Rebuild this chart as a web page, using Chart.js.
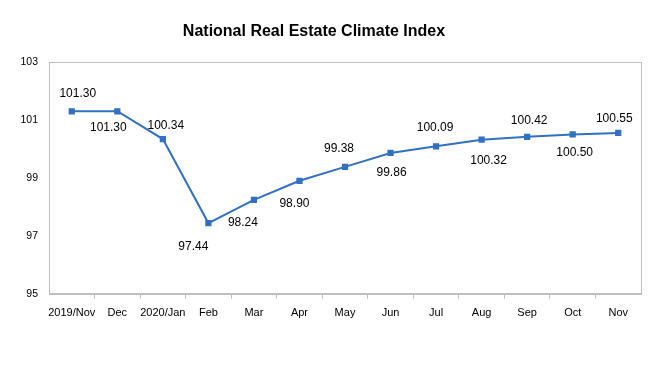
<!DOCTYPE html>
<html>
<head>
<meta charset="utf-8">
<script src="https://cdn.jsdelivr.net/npm/chart.js@4/dist/chart.umd.min.js"></script>
<style>
  html, body { margin: 0; padding: 0; background: #fff; }
  #wrap { width: 659px; height: 386px; }
</style>
</head>
<body>
<div id="wrap"><canvas id="chart" width="659" height="386"></canvas></div>
<script>
  const months = ['2019/Nov', 'Dec', '2020/Jan', 'Feb', 'Mar', 'Apr', 'May', 'Jun', 'Jul', 'Aug', 'Sep', 'Oct', 'Nov'];
  const climateIndex = [101.30, 101.30, 100.34, 97.44, 98.24, 98.90, 99.38, 99.86, 100.09, 100.32, 100.42, 100.50, 100.55];
  const yTicks = [95, 97, 99, 101, 103];

  // where each value label sits relative to its point (px)
  const labelShift = [
    [6, -18], [-9, 16], [3, -13], [-15, 24], [-11, 23], [-5, 23], [-6, -18],
    [1, 20], [-1, -19], [7, 21], [2, -16], [2, 18], [-4, -14],
  ];

  const lineColor = '#3170c3';
  const frameColor = '#bfbfbf';
  const font = '"Liberation Sans", Arial, sans-serif';

  const decorations = {
    id: 'decorations',
    afterDatasetsDraw(chart) {
      const { ctx, chartArea: a } = chart;
      ctx.save();
      // plot frame
      ctx.strokeStyle = frameColor;
      ctx.lineWidth = 1;
      ctx.strokeRect(Math.round(a.left) + 0.5, Math.round(a.top) + 0.5,
        Math.round(a.right - a.left), Math.round(a.bottom - a.top));

      // value labels
      const meta = chart.getDatasetMeta(0);
      ctx.fillStyle = '#000';
      ctx.font = '12px ' + font;
      ctx.textAlign = 'center';
      ctx.textBaseline = 'middle';
      meta.data.forEach((pt, i) => {
        const [dx, dy] = labelShift[i];
        ctx.fillText(climateIndex[i].toFixed(2), pt.x + dx, pt.y + dy);
      });

      // title
      ctx.font = 'bold 16px ' + font;
      ctx.fillText('National Real Estate Climate Index', 314, 32);
      ctx.restore();
    },
  };

  new Chart(document.getElementById('chart'), {
    type: 'line',
    data: {
      labels: months,
      datasets: [{
        data: climateIndex,
        borderColor: lineColor,
        backgroundColor: lineColor,
        borderWidth: 2,
        pointStyle: 'rect',
        pointRadius: 3,
        pointHoverRadius: 3,
        tension: 0,
      }],
    },
    options: {
      responsive: false,
      animation: false,
      layout: { padding: { top: 62, right: 18, bottom: 58, left: 0 } },
      plugins: {
        legend: { display: false },
        tooltip: { enabled: false },
      },
      scales: {
        x: {
          offset: true,
          grid: {
            offset: true,
            drawOnChartArea: false,
            tickLength: 5,
            // no tick marks on the two outer edges
            color: (c) => (c.index === 0 || c.index === undefined ? 'rgba(0,0,0,0)' : frameColor),
          },
          border: { color: frameColor },
          ticks: { color: '#000', font: { family: font, size: 11 }, maxRotation: 0, autoSkip: false, padding: 8 },
        },
        y: {
          min: 95,
          max: 103,
          afterBuildTicks(scale) { scale.ticks = yTicks.map((v) => ({ value: v })); },
          afterFit(scale) { scale.width = 49; },
          grid: { display: false, drawTicks: false },
          border: { color: frameColor },
          ticks: { color: '#000', font: { family: font, size: 10.5 }, padding: 11 },
        },
      },
    },
    plugins: [decorations],
  });
</script>
</body>
</html>
